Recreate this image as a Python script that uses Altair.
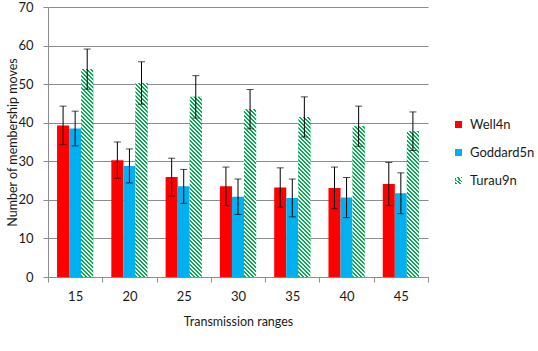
import altair as alt
import pandas as pd

ranges = ["15", "20", "25", "30", "35", "40", "45"]
series_names = ["Well4n", "Goddard5n", "Turau9n"]

well = [39.3, 30.3, 25.9, 23.5, 23.2, 23.1, 24.1]
well_err = [5.0, 4.7, 4.9, 5.0, 5.1, 5.4, 5.6]
goddard = [38.5, 28.8, 23.5, 20.8, 20.5, 20.6, 21.7]
goddard_err = [4.5, 4.4, 4.4, 4.6, 4.9, 5.2, 5.3]
turau = [53.9, 50.3, 46.7, 43.5, 41.5, 39.1, 37.8]
turau_err = [5.2, 5.5, 5.5, 5.1, 5.2, 5.2, 5.0]

rows = []
for name, vals, errs in [("Well4n", well, well_err),
                         ("Goddard5n", goddard, goddard_err),
                         ("Turau9n", turau, turau_err)]:
    for r, v, e in zip(ranges, vals, errs):
        rows.append({"range": r, "series": name, "value": v, "err": e})
df = pd.DataFrame(rows)

RED = "#FF0000"
BLUE = "#00B0F0"
GREEN = "#00B050"
FONT = "Lato"
TXT = "#1a1a1a"
GRID = "#8c8c8c"

# diagonal hatch built as a hard-stop linear gradient (pixel period P along u-v)
P = 4.0
D = 320.0
n = int(D / P)
stops = []
for i in range(n):
    a = i * P / D
    b = (i + 0.5) * P / D
    c = (i + 1) * P / D
    stops += [f"{{offset:{a:.5f},color:'{GREEN}'}}",
              f"{{offset:{b:.5f},color:'{GREEN}'}}",
              f"{{offset:{b:.5f},color:'#ffffff'}}",
              f"{{offset:{c:.5f},color:'#ffffff'}}"]
stops_js = "[" + ",".join(stops) + "]"


def hatch(w, h):
    k = f"({D}/(({w})*({w})+({h})*({h})))"
    return (f"{{gradient:'linear',x1:0,y1:1,x2:({w})*{k},y2:1-({h})*{k},"
            f"stops:{stops_js}}}")


bar_hatch = hatch("bandwidth('xOffset')", "(scale('y',0)-scale('y',datum.value))")
legend_hatch = hatch("7", "7")

x_axis = alt.Axis(title="Transmission ranges", labelAngle=0,
                  tickBand="extent", tickSize=5, labelPadding=8,
                  domainColor=GRID, tickColor=GRID,
                  titleY=44, titleBaseline="middle")
x_enc = alt.X("range:N", sort=ranges,
              scale=alt.Scale(paddingInner=0, paddingOuter=0), axis=x_axis)
xo_enc = alt.XOffset("series:N", sort=series_names,
                     scale=alt.Scale(domain=series_names, paddingInner=0, paddingOuter=0.75))
y_scale = alt.Scale(domain=[0, 70], nice=False)
y_axis = alt.Axis(title="Number of membership moves",
                  values=list(range(0, 71, 10)), grid=True, labelOverlap=False,
                  gridColor=GRID, domainColor=GRID, tickColor=GRID,
                  tickSize=5, labelPadding=10,
                  titleX=-36, titleY=135, titleBaseline="middle")
y_enc = alt.Y("value:Q", scale=y_scale, axis=y_axis)

base = alt.Chart(df)

bars = base.mark_bar().encode(
    x=x_enc, xOffset=xo_enc, y=y_enc,
    color=alt.Color("series:N", sort=series_names,
                    scale=alt.Scale(domain=series_names,
                                    range=[RED, BLUE, alt.ExprRef(legend_hatch)]),
                    legend=alt.Legend(title=None, orient="none", legendX=404, legendY=111,
                                      symbolType="square", symbolSize=49,
                                      symbolStrokeWidth=0, labelFontSize=13,
                                      labelFont=FONT, labelColor=TXT,
                                      rowPadding=14, labelOffset=5, padding=0)),
)

hatched = base.transform_filter("datum.series == 'Turau9n'").mark_bar(
    fill={"expr": bar_hatch}
).encode(x=x_enc, xOffset=xo_enc, y=y_enc)

err = base.transform_calculate(
    lo="datum.value - datum.err", hi="datum.value + datum.err"
)
rule = err.mark_rule(color="black", strokeWidth=1).encode(
    x=x_enc, xOffset=xo_enc, y=alt.Y("lo:Q", scale=y_scale, axis=y_axis), y2="hi:Q")
cap_lo = err.mark_tick(color="black", size=7, thickness=1).encode(
    x=x_enc, xOffset=xo_enc, y=alt.Y("lo:Q", scale=y_scale, axis=y_axis))
cap_hi = err.mark_tick(color="black", size=7, thickness=1).encode(
    x=x_enc, xOffset=xo_enc, y=alt.Y("hi:Q", scale=y_scale, axis=y_axis))

chart = alt.layer(bars, hatched, rule, cap_lo, cap_hi).properties(
    width=380, height=270,
    autosize=alt.AutoSizeParams(type="none"),
    padding={"left": 48, "top": 7, "right": 110, "bottom": 74},
    background="white",
).configure_view(stroke=None).configure_axis(
    labelFont=FONT, labelFontSize=13, labelColor=TXT,
    titleFont=FONT, titleFontSize=12.5, titleColor=TXT, titleFontWeight="normal",
)

chart.save("out.html", embed_options={"renderer": "svg", "actions": False})
